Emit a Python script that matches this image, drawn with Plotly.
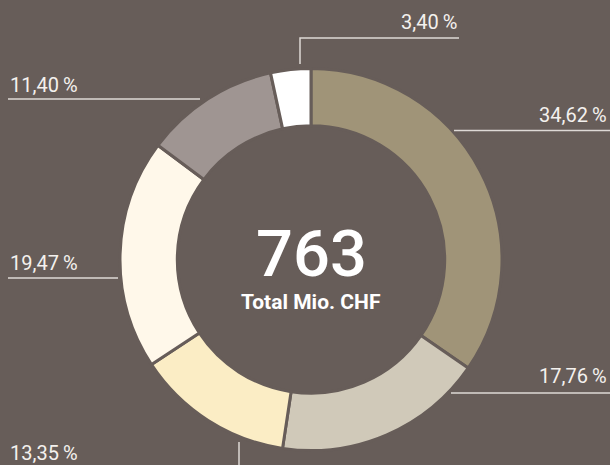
import plotly.graph_objects as go

# Anteile in Prozent, im Uhrzeigersinn ab 12 Uhr
shares = [34.62, 17.76, 13.35, 19.47, 11.40, 3.40]
slice_colors = ["#a09478", "#d0c9b9", "#fbedc5", "#fff8ea", "#9f9592", "#ffffff"]
total = "763"
total_label = "Total Mio. CHF"

W, H = 610, 465
BG = "#675d59"
LINE = "rgba(235,231,227,0.9)"


def px(x, y):
    # pixel -> paper
    return x / W, 1 - y / H


def fmt(v):
    return f"{v:.2f}".replace(".", ",") + "\u2009%"


fig = go.Figure()

cx, cy, r = 311, 259.5, 191
x0, y0 = px(cx - r, cy + r)
x1, y1 = px(cx + r, cy - r)

fig.add_trace(
    go.Pie(
        values=shares,
        marker=dict(colors=slice_colors, line=dict(color=BG, width=3)),
        hole=0.70,
        sort=False,
        direction="clockwise",
        rotation=0,
        textinfo="none",
        hoverinfo="none",
        showlegend=False,
        domain=dict(x=[x0, x1], y=[y0, y1]),
    )
)

# leader lines, positioned by hand (pixel coords)
leaders = [
    [(454, 130.5), (612, 130.5)],
    [(451, 393), (612, 393)],
    [(239, 442), (239, 470)],
    [(8, 278), (118, 278)],
    [(8, 99), (200, 99)],
    [(300, 64), (300, 38), (459, 38)],
]
# label anchors (pixel coords, text right/left edge, text middle)
label_pos = [
    (609, 115, "right"),
    (609, 376, "right"),
    (8, 453, "left"),
    (8, 263, "left"),
    (8, 85, "left"),
    (459, 22, "right"),
]

shapes = []
for pts in leaders:
    path = "M " + " L ".join(f"{px(x, y)[0]},{px(x, y)[1]}" for x, y in pts)
    shapes.append(dict(type="path", path=path, xref="paper", yref="paper",
                       line=dict(color=LINE, width=1.5)))

annotations = []
for v, (x, y, anchor) in zip(shares, label_pos):
    ax, ay = px(x, y)
    annotations.append(dict(x=ax, y=ay, xref="paper", yref="paper", text=fmt(v),
                            showarrow=False, xanchor=anchor, yanchor="middle",
                            font=dict(family="Roboto", size=20, color="#f4f1ee")))

ax, ay = px(cx, 254)
annotations.append(dict(x=ax, y=ay, xref="paper", yref="paper", text=total, showarrow=False,
                        font=dict(family="Roboto", size=65, color="#ffffff", weight=500)))
ax, ay = px(cx, 302)
annotations.append(dict(x=ax, y=ay, xref="paper", yref="paper", text=f"<b>{total_label}</b>",
                        showarrow=False, font=dict(family="Roboto", size=21, color="#ffffff")))

fig.update_layout(
    width=W, height=H,
    margin=dict(l=0, r=0, t=0, b=0),
    paper_bgcolor=BG, plot_bgcolor=BG,
    shapes=shapes,
    annotations=annotations,
)

fig.write_html("out.html", config=dict(displayModeBar=False),
               post_script="document.body.style.margin='0';")
